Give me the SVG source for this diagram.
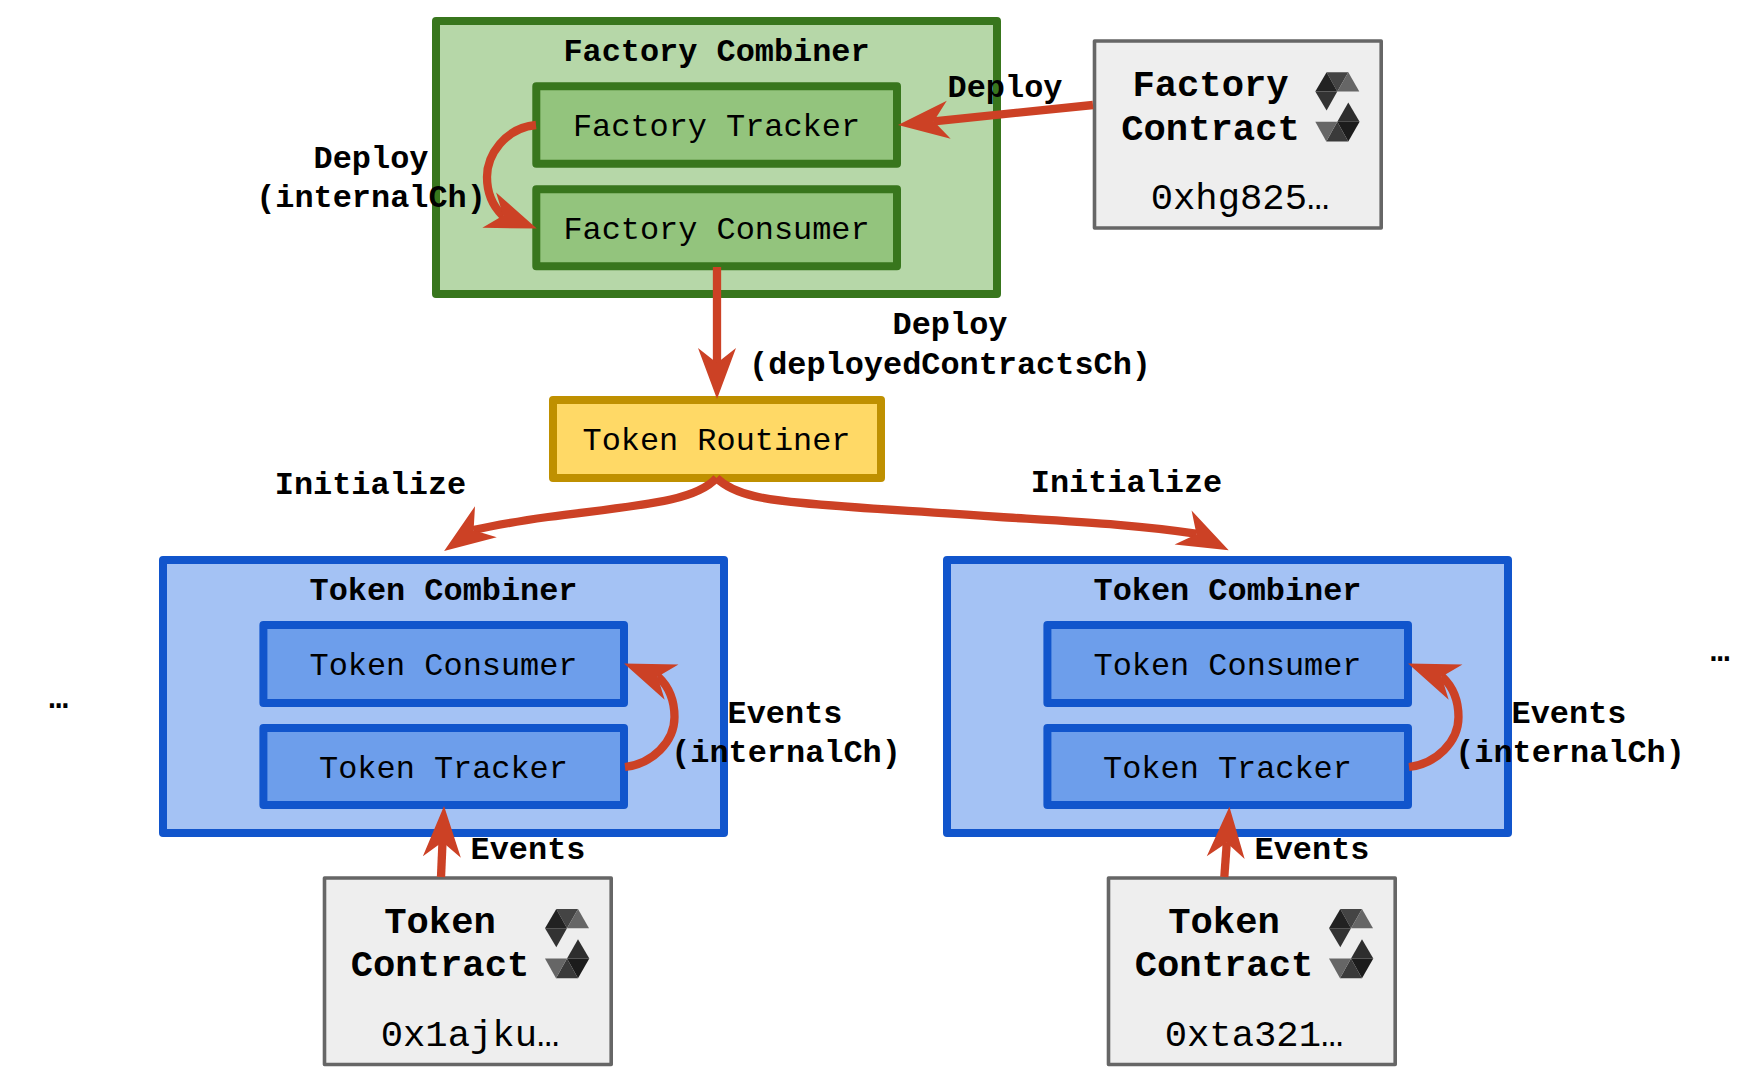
<svg xmlns="http://www.w3.org/2000/svg" xmlns:xlink="http://www.w3.org/1999/xlink" width="1757" height="1080" viewBox="0 0 1757 1080">
<style>
text{font-family:"Liberation Mono","DejaVu Sans Mono",monospace;fill:#000;text-anchor:middle}
.t{font-size:31.9px}
.b{font-size:31.9px;font-weight:700}
.c{font-size:37.2px;font-weight:700}
.a{font-size:37.2px}
rect{stroke-linejoin:round}
.gO{fill:#b6d7a8;stroke:#38761d;stroke-width:8}
.gI{fill:#93c47d;stroke:#38761d;stroke-width:8}
.yI{fill:#ffd966;stroke:#bf9000;stroke-width:8}
.bO{fill:#a4c2f4;stroke:#1155cc;stroke-width:8}
.bI{fill:#6d9eeb;stroke:#1155cc;stroke-width:8}
.k{fill:#eeeeee;stroke:#666666;stroke-width:3.6}
.w{fill:none;stroke:#cc4125;stroke-width:8.3;marker-end:url(#head)}
</style>
<defs>
<marker id="head" markerUnits="userSpaceOnUse" markerWidth="60" markerHeight="44" refX="16" refY="22" orient="auto" overflow="visible">
<path d="M1 3L52 22L1 41L16 22Z" fill="#cc4125"/>
</marker>
<g id="sol">
<path d="M11.300 0L33 0L22 19.300Z" fill="#444444"/>
<path d="M33 0L44 19.300L22 19.300Z" fill="#666666"/>
<path d="M11.300 0L22 19.300L0 19.300Z" fill="#222222"/>
<path d="M0 19.300L22 19.300L11.300 38.300Z" fill="#333333"/>
<path d="M33 30.300L22 49.500L44.300 49.500Z" fill="#2e2e2e"/>
<path d="M44.300 49.500L22 49.500L33 69.300Z" fill="#1c1c1c"/>
<path d="M22 49.500L11 69.300L33 69.300Z" fill="#3a3a3a"/>
<path d="M0 49.500L22 49.500L11 69.300Z" fill="#666666"/>
</g>
</defs>

<g id="factory-combiner">
<rect class="gO" x="436" y="21" width="561" height="273"/>
<text class="b" x="716.500" y="61">Factory Combiner</text>
</g>
<g id="factory-tracker">
<rect class="gI" x="536.300" y="86.300" width="360.700" height="77.400"/>
<text class="t" x="716.500" y="136">Factory Tracker</text>
</g>
<g id="factory-consumer">
<rect class="gI" x="536.300" y="189.300" width="360.700" height="77"/>
<text class="t" x="716.500" y="239">Factory Consumer</text>
</g>
<g id="factory-contract">
<rect class="k" x="1094.500" y="41" width="286.700" height="187"/>
<text class="c" x="1210.500" y="95.500">Factory</text>
<text class="c" x="1210.500" y="140">Contract</text>
<text class="a" x="1240" y="209">0xhg825…</text>
<use xlink:href="#sol" href="#sol" x="1315.300" y="72.300"/>
</g>
<g id="token-routiner">
<rect class="yI" x="553" y="400" width="328" height="78"/>
<text class="t" x="716.500" y="450">Token Routiner</text>
</g>

<g id="token-combiner-1">
<rect class="bO" x="163" y="560" width="561" height="273"/>
<text class="b" x="443.500" y="600">Token Combiner</text>
</g>
<g id="token-consumer-1">
<rect class="bI" x="263.400" y="625" width="360.600" height="78"/>
<text class="t" x="443.500" y="675">Token Consumer</text>
</g>
<g id="token-tracker-1">
<rect class="bI" x="263.400" y="728" width="360.600" height="77"/>
<text class="t" x="443.500" y="778">Token Tracker</text>
</g>
<g id="token-contract-1">
<rect class="k" x="324.500" y="878" width="286.700" height="186.500"/>
<text class="c" x="440" y="932.500">Token</text>
<text class="c" x="440" y="976">Contract</text>
<text class="a" x="470" y="1046">0x1ajku…</text>
<use xlink:href="#sol" href="#sol" x="545" y="909"/>
</g>

<g id="token-combiner-2">
<rect class="bO" x="947" y="560" width="561" height="273"/>
<text class="b" x="1227.500" y="600">Token Combiner</text>
</g>
<g id="token-consumer-2">
<rect class="bI" x="1047.400" y="625" width="360.600" height="78"/>
<text class="t" x="1227.500" y="675">Token Consumer</text>
</g>
<g id="token-tracker-2">
<rect class="bI" x="1047.400" y="728" width="360.600" height="77"/>
<text class="t" x="1227.500" y="778">Token Tracker</text>
</g>
<g id="token-contract-2">
<rect class="k" x="1108.500" y="878" width="286.700" height="186.500"/>
<text class="c" x="1224" y="932.500">Token</text>
<text class="c" x="1224" y="976">Contract</text>
<text class="a" x="1254" y="1046">0xta321…</text>
<use xlink:href="#sol" href="#sol" x="1329" y="909"/>
</g>

<g id="connectors">
<path class="w" d="M1093 105L933.800 121.300"/>
<path class="w" d="M536 125C505 128 487 155 487 177C487 192 492 205 502.300 215.200L503.200 215.550"/>
<path class="w" d="M717 267L717 363"/>
<path class="w" d="M716.500 478C695 502 640 505 548 517C520 521 495 525 474.400 529.800L473.600 530.360"/>
<path class="w" d="M716.500 478C735 496 770 500 803 503C850 508 900 510 1000 517C1080 522 1140 525 1195.600 533.700L1196.500 534.150"/>
<path class="w" d="M441 877L442.500 842"/>
<path class="w" d="M1224.300 877L1226.800 842.700"/>
<path class="w" d="M625 767C652 764 674.500 742 674.500 717C674.500 700 669 687 658.500 677L657.600 676.650"/>
<path class="w" d="M1409 767C1436 764 1458.500 742 1458.500 717C1458.500 700 1453 687 1442.500 677L1441.600 676.650"/>
</g>

<g id="labels">
<text class="b" x="1005" y="97">Deploy</text>
<text class="b" x="371" y="168">Deploy</text>
<text class="b" x="371" y="207">(internalCh)</text>
<text class="b" x="950" y="334">Deploy</text>
<text class="b" x="950" y="373.500">(deployedContractsCh)</text>
<text class="b" x="370.500" y="494">Initialize</text>
<text class="b" x="1126.500" y="491.500">Initialize</text>
<text class="b" x="785" y="723">Events</text>
<text class="b" x="786" y="762">(internalCh)</text>
<text class="b" x="528" y="858.500">Events</text>
<text class="b" x="1569" y="723">Events</text>
<text class="b" x="1570" y="762">(internalCh)</text>
<text class="b" x="1312" y="858.500">Events</text>
<text class="b" x="58.500" y="708">…</text>
<text class="b" x="1720" y="661">…</text>
</g>
</svg>
